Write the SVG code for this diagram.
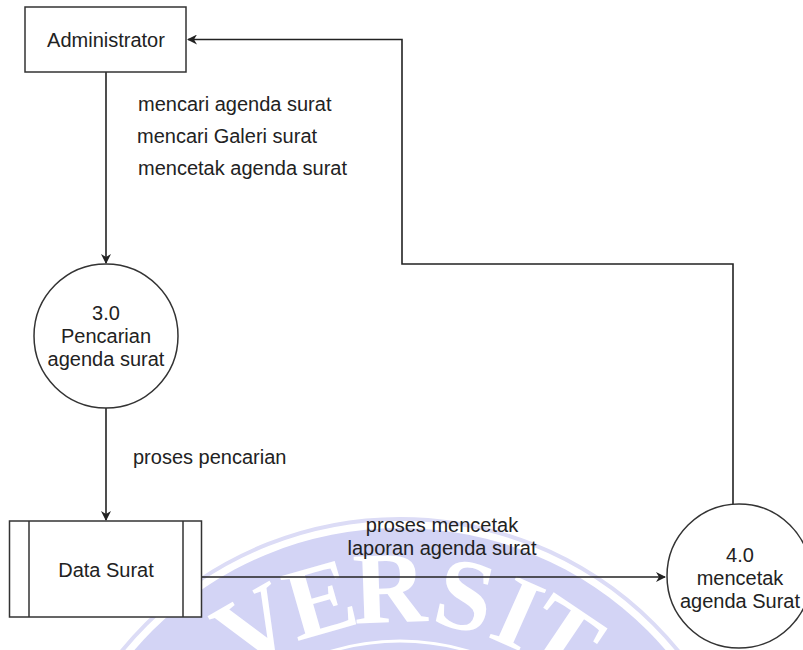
<svg xmlns="http://www.w3.org/2000/svg" width="803" height="650" viewBox="0 0 803 650">
<defs>
<style>
.t{font-family:"Liberation Sans",Arial,sans-serif;font-size:20px;fill:#222}
.m{text-anchor:middle}
.n{fill:#fff;stroke:#333;stroke-width:1.5}
.c{fill:none;stroke:#222;stroke-width:1.6}
.w{font-family:"Liberation Serif","Times New Roman",serif;font-size:102px;font-weight:bold;fill:#fff;text-anchor:middle}
</style>
<marker id="a" viewBox="0 0 10 10" refX="9" refY="5" markerWidth="10" markerHeight="10" markerUnits="userSpaceOnUse" orient="auto">
<path d="M0,0 L10,5 L0,10 L3,5 z" fill="#222"/>
</marker>
</defs>
<rect width="803" height="650" fill="#fff"/>
<g id="watermark">
<circle cx="400" cy="878" r="359" fill="none" stroke="#dcdcf6" stroke-width="4"/>
<circle cx="400" cy="878" r="350" fill="#d3d4f5"/>
<circle cx="400" cy="878" r="237" fill="none" stroke="#fff" stroke-width="3"/>
<text class="w" x="400" y="622" transform="rotate(-30 400 878)">V</text>
<text class="w" x="400" y="622" transform="rotate(-16 400 878)">E</text>
<text class="w" x="400" y="622" transform="rotate(-2 400 878)">R</text>
<text class="w" x="400" y="622" transform="rotate(13 400 878)">S</text>
<text class="w" x="400" y="622" transform="rotate(24 400 878)">I</text>
<text class="w" x="400" y="622" transform="rotate(34 400 878)">T</text>
</g>
<g id="connectors">
<path class="c" d="M106,72 V263" marker-end="url(#a)"/>
<path class="c" d="M106,408 V520" marker-end="url(#a)"/>
<path class="c" d="M202,577 H665" marker-end="url(#a)"/>
<path class="c" d="M733,504 V264 H402 V39.5 H188" marker-end="url(#a)"/>
</g>
<g id="labels">
<text class="t" x="138" y="111">mencari agenda surat</text>
<text class="t" x="137" y="143">mencari Galeri surat</text>
<text class="t" x="138" y="175">mencetak agenda surat</text>
<text class="t" x="133" y="464">proses pencarian</text>
<text class="t m" x="442" y="532">proses mencetak</text>
<text class="t m" x="442" y="555">laporan agenda surat</text>
</g>
<g id="administrator">
<rect class="n" x="25" y="7" width="161" height="65"/>
<text class="t m" x="106" y="47">Administrator</text>
</g>
<g id="p30">
<circle class="n" cx="106" cy="336" r="72"/>
<text class="t m" x="106" y="320">3.0</text>
<text class="t m" x="106" y="343">Pencarian</text>
<text class="t m" x="106" y="366">agenda surat</text>
</g>
<g id="datasurat">
<rect class="n" x="9.5" y="521" width="192" height="96"/>
<path class="n" d="M29,521 V617 M183,521 V617"/>
<text class="t m" x="106" y="577">Data Surat</text>
</g>
<g id="p40">
<circle class="n" cx="739" cy="576" r="72"/>
<text class="t m" x="740" y="562">4.0</text>
<text class="t m" x="740" y="585">mencetak</text>
<text class="t m" x="740" y="608">agenda Surat</text>
</g>
</svg>
